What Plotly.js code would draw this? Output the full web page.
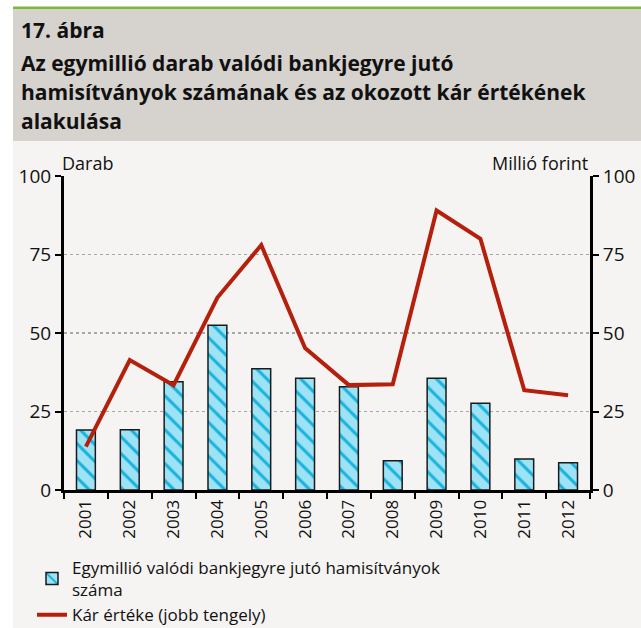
<!DOCTYPE html>
<html>
<head>
<meta charset="utf-8">
<script src="https://cdn.plot.ly/plotly-3.0.1.min.js"></script>
<style>
html,body{margin:0;padding:0;background:#fff;}
#chart{width:641px;height:628px;}
</style>
</head>
<body>
<div id="chart"></div>
<script>
const years = ['2001','2002','2003','2004','2005','2006','2007','2008','2009','2010','2011','2012'];
const counterfeits = [19.1, 19.2, 34.5, 52.5, 38.6, 35.6, 32.9, 9.3, 35.6, 27.6, 9.9, 8.7];
const damage = [13.8, 41.4, 33.4, 61.3, 78.0, 45.2, 33.4, 33.7, 89.0, 80.0, 31.8, 30.2];
const yTicks = [0, 25, 50, 75, 100];

const W = 641, H = 628;
const mL = 64, mR = 51, mT = 176, mB = 138;
const pw = W - mL - mR, ph = H - mT - mB;
const px = p => (p - mL) / pw;
const py = p => 1 - (p - mT) / ph;

const FONT = '"Open Sans", "DejaVu Sans", sans-serif';

const traces = [
  {
    type: 'bar',
    x: years,
    y: counterfeits,
    name: 'Egymillió valódi bankjegyre jutó hamisítványok<br>száma',
    marker: {
      color: '#9ee3f5',
      line: {color: '#1a1a1a', width: 1.5},
      pattern: {shape: '\\', fgcolor: '#16b2dd', bgcolor: '#9ee3f5', size: 12, solidity: 0.25}
    },
    width: 0.43,
    yaxis: 'y',
    hoverinfo: 'x+y'
  },
  {
    type: 'scatter',
    mode: 'lines',
    x: years,
    y: damage,
    name: 'Kár értéke (jobb tengely)',
    line: {color: '#b5200d', width: 4},
    yaxis: 'y2'
  }
];

const layout = {
  width: W, height: H,
  margin: {l: mL, r: mR, t: mT, b: mB, pad: 0, autoexpand: false},
  paper_bgcolor: '#ffffff',
  plot_bgcolor: 'rgba(0,0,0,0)',
  font: {family: FONT, color: '#111', size: 18},
  showlegend: true,
  legend: {
    x: px(32), xanchor: 'left',
    y: py(550), yanchor: 'top',
    bgcolor: 'rgba(0,0,0,0)',
    font: {family: FONT, size: 17, color: '#111'},
    traceorder: 'normal',
    tracegroupgap: 0,
    itemwidth: 30
  },
  xaxis: {
    type: 'category',
    automargin: false,
    showline: true, linecolor: '#000', linewidth: 3,
    ticks: 'outside', tickson: 'boundaries', ticklen: 6, tickwidth: 2, tickcolor: '#000',
    tickangle: -90,
    tickfont: {family: FONT, size: 17, color: '#111'},
    showgrid: false, zeroline: false,
    fixedrange: true
  },
  yaxis: {
    range: [0, 100], tickvals: yTicks,
    automargin: false,
    showline: true, linecolor: '#000', linewidth: 3,
    ticks: 'outside', ticklen: 6, tickwidth: 2, tickcolor: '#000',
    tickfont: {family: FONT, size: 19, color: '#111'},
    showgrid: true, gridcolor: '#a8a8a8', gridwidth: 1.5, griddash: 'dot',
    zeroline: false,
    fixedrange: true
  },
  yaxis2: {
    range: [0, 100], tickvals: yTicks,
    automargin: false,
    overlaying: 'y', side: 'right',
    showline: true, linecolor: '#000', linewidth: 3,
    ticks: 'outside', ticklen: 6, tickwidth: 2, tickcolor: '#000',
    tickfont: {family: FONT, size: 19, color: '#111'},
    showgrid: false, zeroline: false,
    fixedrange: true
  },
  shapes: [
    {type: 'rect', xref: 'paper', yref: 'paper', layer: 'below',
     x0: px(13), x1: px(W), y0: py(H), y1: py(141),
     fillcolor: '#f5f4f2', line: {width: 0}},
    {type: 'rect', xref: 'paper', yref: 'paper', layer: 'below',
     x0: px(13), x1: px(W), y0: py(141), y1: py(9),
     fillcolor: '#d6d2ce', line: {width: 0}},
    {type: 'rect', xref: 'paper', yref: 'paper', layer: 'below',
     x0: px(13), x1: px(W), y0: py(9), y1: py(6.5),
     fillcolor: '#7bb93a', line: {width: 0}}
  ],
  annotations: [
    {text: '<b>17. ábra</b>', xref: 'paper', yref: 'paper', x: px(19), y: py(14), xanchor: 'left', yanchor: 'top', showarrow: false, font: {family: FONT, size: 21, color: '#111'}},
    {text: '<b>Az egymillió darab valódi bankjegyre jutó</b>', xref: 'paper', yref: 'paper', x: px(19), y: py(47), xanchor: 'left', yanchor: 'top', showarrow: false, font: {family: FONT, size: 21, color: '#111'}},
    {text: '<b>hamisítványok számának és az okozott kár értékének</b>', xref: 'paper', yref: 'paper', x: px(19), y: py(76), xanchor: 'left', yanchor: 'top', showarrow: false, font: {family: FONT, size: 21, color: '#111'}},
    {text: '<b>alakulása</b>', xref: 'paper', yref: 'paper', x: px(19), y: py(105), xanchor: 'left', yanchor: 'top', showarrow: false, font: {family: FONT, size: 21, color: '#111'}},
    {text: 'Darab', xref: 'paper', yref: 'paper', x: px(60), y: py(149), xanchor: 'left', yanchor: 'top', showarrow: false, font: {family: FONT, size: 18, color: '#111'}},
    {text: 'Millió forint', xref: 'paper', yref: 'paper', x: px(590), y: py(149), xanchor: 'right', yanchor: 'top', showarrow: false, font: {family: FONT, size: 18, color: '#111'}}
  ]
};

Plotly.newPlot('chart', traces, layout, {displayModeBar: false, staticPlot: true});
</script>
</body>
</html>
